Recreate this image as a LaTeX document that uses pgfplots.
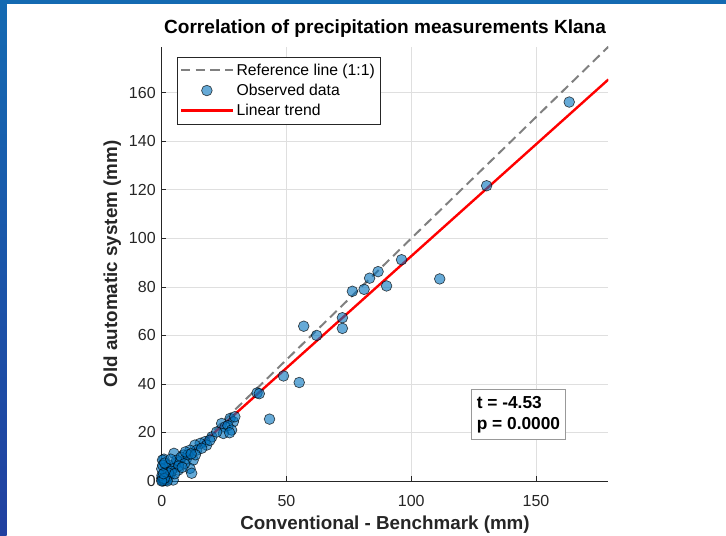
\documentclass[border=0pt]{standalone}
\usepackage{pgfplots}
\pgfplotsset{compat=1.18}
\usepackage{pgfplotstable}
\usepackage{fontspec}
\setmainfont{Liberation Sans}

\definecolor{matblue}{RGB}{0,114,189}
\definecolor{axgray}{RGB}{38,38,38}
\definecolor{gridgray}{RGB}{223,223,223}
\definecolor{frameblue}{RGB}{20,106,178}
\definecolor{frameblue2}{RGB}{33,64,160}

\pgfplotsset{
  linelegend/.style={legend image code/.code={\draw[##1] (0pt,0pt) -- (38.8pt,0pt);}},
  marklegend/.style={legend image code/.code={\draw[##1, only marks, mark repeat=2, mark phase=2] plot coordinates {(0pt,0pt) (19.4pt,0pt) (38.8pt,0pt)};}},
}

% observed pairs: conventional (x) vs old automatic (y), mm
\pgfplotstableread{
x y
163.3 156.2
130.2 121.7
96.1 91.2
111.4 83.3
86.7 86.3
83.3 83.6
81.1 79.0
76.4 78.2
90.1 80.4
72.4 67.3
72.4 62.9
62.1 60.0
56.9 63.8
48.8 43.3
55.1 40.6
38.2 36.3
39.1 36.0
43.2 25.5
27.4 25.8
28.7 24.4
29.3 26.5
24.0 23.7
25.4 22.3
26.5 22.8
28.0 21.0
24.7 19.6
27.2 19.9
20.1 18.2
22.0 20.2
17.3 16.2
15.4 15.5
13.3 14.8
18.0 14.8
19.3 16.8
14.0 12.7
11.3 12.7
16.0 13.5
8.7 10.7
10.0 9.3
7.2 7.9
12.6 8.6
11.3 5.2
12.0 3.2
4.9 11.4
0.9 9.0
1.3 3.8
4.6 5.2
6.6 4.5
3.3 2.5
0.0 1.1
2.0 0.4
4.6 0.4
0.5 0.0
0.2 0.3
0.6 0.8
1.0 0.2
1.5 1.8
2.4 2.0
0.1 2.3
0.3 8.6
1.8 5.6
3.0 6.4
5.5 7.0
6.0 8.6
7.8 9.8
9.2 7.2
10.5 10.8
9.5 12.0
6.8 6.2
3.8 4.0
2.7 3.3
5.2 3.0
8.2 5.6
13.5 10.8
11.8 11.2
0.0 5.0
0.4 6.5
1.2 7.4
3.6 9.0
2.2 0.0
1.0 1.0
0.0 0.0
0.7 3.0
}\obsdata

\begin{document}
\begin{tikzpicture}
\path[use as bounding box] (0,0) rectangle (544.5pt,402pt);
\fill[frameblue] (0,399pt) rectangle (544.5pt,402pt);
\shade[top color=frameblue, bottom color=frameblue2] (0,0) rectangle (5pt,402pt);
\begin{axis}[
  at={(121.3pt,41.25pt)}, anchor=south west,
  scale only axis, width=335pt, height=325.7pt,
  xmin=0, xmax=179, ymin=0, ymax=179,
  axis x line*=bottom, axis y line*=left,
  axis line style={axgray, line width=0.6pt, -},
  xtick={0,50,100,150}, ytick={0,20,...,160},
  tick align=inside, major tick length=3.5pt,
  tick style={axgray, line width=0.6pt},
  grid=major, major grid style={gridgray, line width=0.6pt},
  /pgf/number format/assume math mode=true,
  tick label style={font=\fontsize{12}{14}\selectfont, color=axgray},
  xticklabel style={yshift=-7pt},
  yticklabel style={xshift=-1pt},
  title={Correlation of precipitation measurements Klana},
  title style={font=\bfseries\fontsize{14.3}{17}\selectfont, at={(axis description cs:0.5,1.011)}, anchor=base},
  xlabel={Conventional - Benchmark (mm)},
  xlabel style={font=\bfseries\fontsize{14.1}{17}\selectfont, color=axgray, at={(axis description cs:0.5,-0.1128)}, anchor=base},
  ylabel={Old automatic system (mm)},
  ylabel style={font=\bfseries\fontsize{14.1}{17}\selectfont, color=axgray, at={(axis description cs:-0.1,0.5)}, anchor=base},
  legend style={at={(axis description cs:0.0336,0.977)}, anchor=north west,
    draw=axgray, line width=0.6pt, fill=white,
    font=\fontsize{11.8}{14}\selectfont,
    inner xsep=2pt, inner ysep=3pt, row sep=1pt},
  legend cell align=left,
]
\addplot[gray, line width=1.5pt, dash pattern=on 7pt off 4pt, linelegend]
  coordinates {(0,0) (179,179)};
\addlegendentry{Reference line (1:1)}
\addplot[only marks, mark=*, mark size=4pt,
  mark options={fill=matblue, fill opacity=0.6, draw=black, draw opacity=0.7, line width=0.5pt},
  marklegend]
  table[x=x,y=y] {\obsdata};
\addlegendentry{Observed data}
\addplot[red, line width=1.8pt, linelegend]
  coordinates {(0,0.5) (179,165.5)};
\addlegendentry{Linear trend}
\node[draw=gray!80, fill=white, line width=0.6pt, anchor=north west, align=left,
  font=\bfseries\fontsize{13}{15.75}\selectfont, inner xsep=4.3pt, inner ysep=5pt]
  at (axis cs:123.8,37.8) {t = -4.53\\p = 0.0000};
\end{axis}
\end{tikzpicture}
\end{document}
